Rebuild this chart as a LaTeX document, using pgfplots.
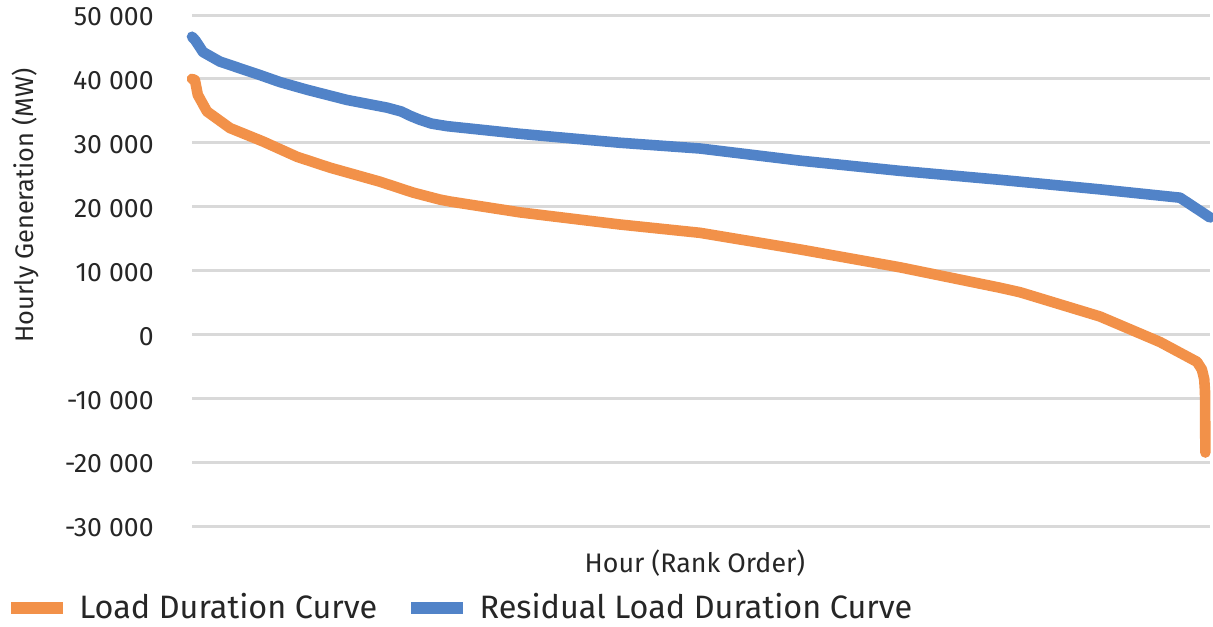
\documentclass[border=0pt]{standalone}
\usepackage{pgfplots}
\pgfplotsset{compat=1.18}
\usepackage{fontspec}
\setmainfont{Fira Sans}
\definecolor{ldc}{HTML}{F29149}
\definecolor{rldc}{HTML}{5183C8}
\definecolor{txt}{HTML}{262626}
\begin{document}
\begin{tikzpicture}
\useasboundingbox (0,0) rectangle (606.5pt,313pt);
\begin{axis}[
  at={(96pt,50pt)}, anchor=south west,
  scale only axis, width=509pt, height=255.5pt,
  xmin=0, xmax=8760, ymin=-30000, ymax=50000,
  scaled y ticks=false,
  axis line style={draw=none},
  tick style={draw=none},
  xtick=\empty,
  ytick={-30000,-20000,...,50000},
  yticklabels={-30 000,-20 000,-10 000,0,10 000,20 000,30 000,40 000,50 000},
  yticklabel style={font=\fontsize{13.3}{15}\selectfont, text=txt, anchor=east, inner sep=0pt, xshift=-19pt, yshift=-1pt},
  ymajorgrids,
  grid style={line width=1.5pt, color=black!15},
  xlabel={Hour (Rank Order)},
  ylabel={Hourly Generation (MW)},
  xlabel style={font=\fontsize{13.4}{15}\selectfont, text=txt, at={(axis description cs:0.494,-0.072)}, anchor=center},
  ylabel style={font=\fontsize{12.7}{14}\selectfont, text=txt, at={(axis description cs:-0.164,0.627)}, anchor=center, rotate=0},
  legend columns=2,
  legend style={draw=none, fill=none, at={(axis description cs:-0.184,-0.16)}, anchor=west, inner sep=0pt,
    font=\fontsize{16.2}{18}\selectfont, text=txt,
    /tikz/every even column/.append style={column sep=12pt}},
  legend image code/.code={\draw[#1, line width=6pt, line cap=butt] (0pt,0pt) -- (26pt,0pt); \path (29.5pt,0pt);},
  legend cell align=left,
  every axis plot/.append style={line width=5.3pt, line join=round, line cap=round},
  clip=false,
]
\addplot[ldc] coordinates {
(0,40000) (25,39800) (50,37500) (129,34900) (327,32300) (611,30200) (904,27800)
(1188,26100) (1618,23900) (1902,22200) (2134,21100) (2220,20800) (2822,19100)
(3683,17200) (4371,15900) (5232,13300) (6092,10500) (6953,7300) (7125,6600)
(7813,2800) (8330,-1200) (8648,-4300) (8690,-5500) (8710,-7000) (8717,-9000) (8720,-18500)
};
\addlegendentry{Load Duration Curve}
\addplot[rldc] coordinates {
(0,46600) (30,46000) (95,44200) (241,42700) (585,40600) (757,39500) (990,38300)
(1334,36700) (1678,35500) (1800,34900) (1880,34200) (1960,33600) (2060,33000) (2194,32600)
(2822,31400) (3683,30000) (4371,29100) (5232,27200) (6092,25600) (6953,24200)
(7125,23900) (7813,22700) (8502,21400) (8760,18300)
};
\addlegendentry{Residual Load Duration Curve}
\end{axis}
\end{tikzpicture}
\end{document}
